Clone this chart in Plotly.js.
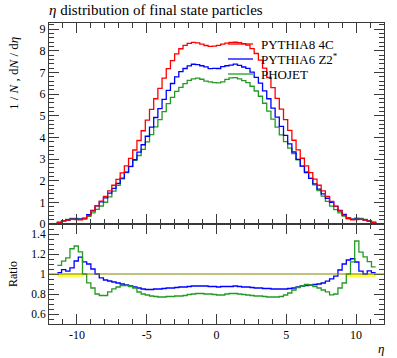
<!DOCTYPE html>
<html>
<head>
<meta charset="utf-8">
<script src="https://cdn.plot.ly/plotly-3.0.1.min.js"></script>
<style>
  html, body { margin: 0; padding: 0; background: #ffffff; }
  #chart { width: 397px; height: 358px; }
</style>
</head>
<body>
<div id="chart"></div>
<script>
// Binning: 80 bins of width 0.3 from eta = -12 to 12
const binLow = -12;
const binWidth = 0.3;
const nBins = 80;

// 1/N dN/deta per bin
const pythia8_4C = [0, 0, 0.07, 0.14, 0.18, 0.21, 0.2, 0.19, 0.24, 0.39,
  0.6, 0.84, 1.06, 1.28, 1.53, 1.79, 2.06, 2.36, 2.69, 3.03,
  3.42, 3.86, 4.31, 4.8, 5.3, 5.79, 6.27, 6.74, 7.18, 7.55,
  7.86, 8.1, 8.26, 8.35, 8.39, 8.37, 8.31, 8.25, 8.21, 8.22,
  8.26, 8.31, 8.36, 8.39, 8.4, 8.38, 8.34, 8.27, 8.11, 7.88,
  7.57, 7.2, 6.77, 6.3, 5.81, 5.31, 4.82, 4.33, 3.87, 3.43,
  3.04, 2.69, 2.37, 2.07, 1.79, 1.53, 1.28, 1.05, 0.83, 0.6,
  0.4, 0.25, 0.19, 0.2, 0.21, 0.18, 0.13, 0.07, 0, 0];

const pythia6_Z2 = [0, 0, 0.071, 0.146, 0.185, 0.223, 0.226, 0.222, 0.269, 0.429,
  0.63, 0.84, 1.018, 1.203, 1.423, 1.647, 1.875, 2.124, 2.394, 2.666,
  2.975, 3.32, 3.664, 4.056, 4.479, 4.922, 5.33, 5.763, 6.175, 6.493,
  6.799, 7.047, 7.186, 7.306, 7.383, 7.366, 7.313, 7.26, 7.184, 7.193,
  7.186, 7.271, 7.315, 7.341, 7.392, 7.333, 7.256, 7.195, 7.015, 6.777,
  6.51, 6.156, 5.788, 5.355, 4.939, 4.514, 4.097, 3.702, 3.328, 2.984,
  2.675, 2.381, 2.109, 1.853, 1.611, 1.392, 1.19, 0.998, 0.813, 0.624,
  0.44, 0.285, 0.219, 0.224, 0.216, 0.18, 0.134, 0.071, 0, 0];

const phojet = [0, 0, 0.076, 0.158, 0.209, 0.263, 0.256, 0.232, 0.24, 0.355,
  0.516, 0.672, 0.832, 1.005, 1.255, 1.522, 1.792, 2.089, 2.381, 2.651,
  2.941, 3.165, 3.448, 3.792, 4.134, 4.487, 4.828, 5.19, 5.565, 5.851,
  6.131, 6.318, 6.484, 6.638, 6.712, 6.738, 6.69, 6.6, 6.568, 6.535,
  6.525, 6.565, 6.688, 6.754, 6.762, 6.704, 6.63, 6.533, 6.366, 6.146,
  5.905, 5.58, 5.213, 4.851, 4.474, 4.115, 3.808, 3.507, 3.251, 2.967,
  2.675, 2.408, 2.109, 1.811, 1.539, 1.285, 1.05, 0.83, 0.664, 0.516,
  0.364, 0.25, 0.213, 0.266, 0.256, 0.211, 0.146, 0.075, 0, 0];

// relative uncertainty band of the reference (PYTHIA8 4C)
const refErrDown = [0, 0, 0.03, 0.03, 0.03, 0.03, 0.03, 0.03, 0.015, 0.004,
  0.001, 0.001, 0.001, 0.001, 0.001, 0.001, 0.001, 0.001, 0.001, 0.001,
  0.001, 0.001, 0.001, 0.001, 0.001, 0.001, 0.001, 0.001, 0.001, 0.001,
  0.001, 0.001, 0.001, 0.001, 0.001, 0.001, 0.001, 0.001, 0.001, 0.001,
  0.001, 0.001, 0.001, 0.001, 0.001, 0.001, 0.001, 0.001, 0.001, 0.001,
  0.001, 0.001, 0.001, 0.001, 0.001, 0.001, 0.001, 0.001, 0.001, 0.001,
  0.001, 0.001, 0.001, 0.001, 0.001, 0.001, 0.001, 0.001, 0.001, 0.001,
  0.006, 0.03, 0.03, 0.03, 0.03, 0.03, 0.03, 0.03, 0, 0];
const refErrUp = [0, 0, 0.01, 0.01, 0.01, 0.01, 0.01, 0.01, 0.005, 0.002,
  0.001, 0.001, 0.001, 0.001, 0.001, 0.001, 0.001, 0.001, 0.001, 0.001,
  0.001, 0.001, 0.001, 0.001, 0.001, 0.001, 0.001, 0.001, 0.001, 0.001,
  0.001, 0.001, 0.001, 0.001, 0.001, 0.001, 0.001, 0.001, 0.001, 0.001,
  0.001, 0.001, 0.001, 0.001, 0.001, 0.001, 0.001, 0.001, 0.001, 0.001,
  0.001, 0.001, 0.001, 0.001, 0.001, 0.001, 0.001, 0.001, 0.001, 0.001,
  0.001, 0.001, 0.001, 0.001, 0.001, 0.001, 0.001, 0.001, 0.001, 0.001,
  0.003, 0.01, 0.01, 0.01, 0.01, 0.01, 0.01, 0.01, 0, 0];

const seriesNames = ["PYTHIA8 4C", "PYTHIA6 Z2<sup>*</sup>", "PHOJET"];
const seriesColors = ["#ff0000", "#0000ff", "#239b23"];
const xTickVals = [-10, -5, 0, 5, 10];
const xTickText = ["-10", "-5", "0", "5", "10"];
const ratioTickVals = [0.6, 0.8, 1, 1.2, 1.4];
const ratioTickText = ["0.6", "0.8", "1", "1.2", "1.4"];

// ---- build step histograms ----
const edges = [];
for (let i = 0; i <= nBins; i++) edges.push(+(binLow + i * binWidth).toFixed(4));

function stepXY(vals) {
  const x = edges.slice();
  const y = vals.slice();
  y.push(vals[vals.length - 1]);
  return { x, y };
}

function ratioXY(num, den) {
  const x = [], y = [];
  let last = null;
  for (let i = 0; i < nBins; i++) {
    if (den[i] > 0) { x.push(edges[i]); y.push(num[i] / den[i]); last = i; }
  }
  x.push(edges[last + 1]); y.push(y[y.length - 1]);
  return { x, y };
}
function bandXY(errArr, sign) {
  const x = [], y = [];
  let last = null;
  for (let i = 0; i < nBins; i++) {
    if (pythia8_4C[i] > 0) { x.push(edges[i]); y.push(1 + sign * errArr[i]); last = i; }
  }
  x.push(edges[last + 1]); y.push(y[y.length - 1]);
  return { x, y };
}

const FONT = "Liberation Serif, Times New Roman, serif";
const mainSeries = [pythia8_4C, pythia6_Z2, phojet];
const traces = [];

const bLo = bandXY(refErrDown, -1), bHi = bandXY(refErrUp, +1);
traces.push({ x: bLo.x, y: bLo.y, xaxis: "x2", yaxis: "y2", type: "scatter", mode: "lines",
  line: { shape: "hv", width: 0, color: "rgba(0,0,0,0)" }, hoverinfo: "skip", showlegend: false });
traces.push({ x: bHi.x, y: bHi.y, xaxis: "x2", yaxis: "y2", type: "scatter", mode: "lines",
  line: { shape: "hv", width: 0, color: "rgba(0,0,0,0)" }, fill: "tonexty", fillcolor: "#ffff40",
  hoverinfo: "skip", showlegend: false });

[1, 2].forEach(k => {
  const r = ratioXY(mainSeries[k], pythia8_4C);
  traces.push({ x: r.x, y: r.y, xaxis: "x2", yaxis: "y2", type: "scatter", mode: "lines",
    line: { shape: "hv", width: 1.3, color: seriesColors[k] }, showlegend: false });
});

[2, 1, 0].forEach(k => {
  const s = stepXY(mainSeries[k]);
  traces.push({ x: s.x, y: s.y, xaxis: "x", yaxis: "y", type: "scatter", mode: "lines",
    name: seriesNames[k], line: { shape: "hv", width: 1.3, color: seriesColors[k] }, showlegend: false });
});

const L = 49, R = 13, T = 23, B = 34;
const W = 397, H = 358;
const pw = W - L - R, ph = H - T - B;
const px2x = p => (p - L) / pw;
const px2y = p => (H - B - p) / ph;
const split = px2y(224);

const axisLine = "#3a3a3a";
const xBase = {
  range: [-12, 12], showgrid: false, zeroline: false, showline: true, linecolor: axisLine, linewidth: 1,
  mirror: "allticks", ticks: "inside", ticklen: 10, tickwidth: 1, tickcolor: axisLine,
  tickmode: "array", tickvals: xTickVals, ticktext: xTickText,
  minor: { tickmode: "linear", tick0: 0, dtick: 1, ticks: "inside", ticklen: 5, tickcolor: axisLine, showgrid: false },
  tickfont: { family: FONT, size: 12, color: "#000" }
};

const legendY = [44, 59, 74];
const shapes = [
  { type: "line", xref: "paper", yref: "y2", x0: 0, x1: 1, y0: 1, y1: 1, line: { color: "#858500", width: 1 } }
];
const annotations = [];
[0, 1, 2].forEach(k => {
  shapes.push({ type: "line", xref: "paper", yref: "paper", x0: px2x(228), x1: px2x(253),
    y0: px2y(legendY[k]), y1: px2y(legendY[k]), line: { color: seriesColors[k], width: 1.3 } });
  annotations.push({ xref: "paper", yref: "paper", x: px2x(259), y: px2y(legendY[k]), xanchor: "left", yanchor: "middle",
    text: seriesNames[k], showarrow: false, font: { family: FONT, size: 13, color: "#000" } });
});
annotations.push({ xref: "paper", yref: "paper", x: px2x(13), y: px2y(74), xanchor: "center", yanchor: "middle",
  textangle: -90, text: "1 / <i>N</i> , d<i>N</i> / d<i>η</i>", showarrow: false, font: { family: FONT, size: 13, color: "#000" } });
annotations.push({ xref: "paper", yref: "paper", x: px2x(13), y: px2y(274), xanchor: "center", yanchor: "middle",
  textangle: -90, text: "Ratio", showarrow: false, font: { family: FONT, size: 12, color: "#000" } });
annotations.push({ xref: "paper", yref: "paper", x: px2x(381), y: px2y(348), xanchor: "center", yanchor: "middle",
  text: "<i>η</i>", showarrow: false, font: { family: FONT, size: 13, color: "#000" } });

const layout = {
  width: W, height: H,
  margin: { l: L, r: R, t: T, b: B, pad: 0 },
  paper_bgcolor: "#ffffff", plot_bgcolor: "#ffffff",
  showlegend: false,
  font: { family: FONT, size: 12, color: "#000" },
  title: { text: "<i>η</i> distribution of final state particles", x: 0, xref: "paper", xanchor: "left",
    y: 1 - 10 / H, yref: "container", yanchor: "middle", font: { family: FONT, size: 15, color: "#000" } },
  xaxis: Object.assign({}, xBase, { anchor: "y", domain: [0, 1], showticklabels: false }),
  yaxis: {
    anchor: "x", domain: [split, 1], range: [0, 9.29], showgrid: false, zeroline: false,
    showline: true, linecolor: axisLine, linewidth: 1, mirror: "allticks",
    ticks: "inside", ticklen: 10, tickcolor: axisLine, tickmode: "linear", tick0: 0, dtick: 1,
    minor: { tickmode: "linear", tick0: 0, dtick: 0.2, ticks: "inside", ticklen: 5, tickcolor: axisLine, showgrid: false },
    tickfont: { family: FONT, size: 12, color: "#000" }
  },
  xaxis2: Object.assign({}, xBase, { anchor: "y2", domain: [0, 1], showticklabels: true }),
  yaxis2: {
    anchor: "x2", domain: [0, split], range: [0.5, 1.5], showgrid: false, zeroline: false,
    showline: true, linecolor: axisLine, linewidth: 1, mirror: "allticks",
    ticks: "inside", ticklen: 10, tickcolor: axisLine, tickmode: "array", tickvals: ratioTickVals, ticktext: ratioTickText,
    minor: { tickmode: "linear", tick0: 0.5, dtick: 0.05, ticks: "inside", ticklen: 5, tickcolor: axisLine, showgrid: false },
    tickfont: { family: FONT, size: 11.5, color: "#000" }
  },
  shapes: shapes,
  annotations: annotations
};

Plotly.newPlot("chart", traces, layout, { displayModeBar: false, staticPlot: true });
</script>
</body>
</html>
